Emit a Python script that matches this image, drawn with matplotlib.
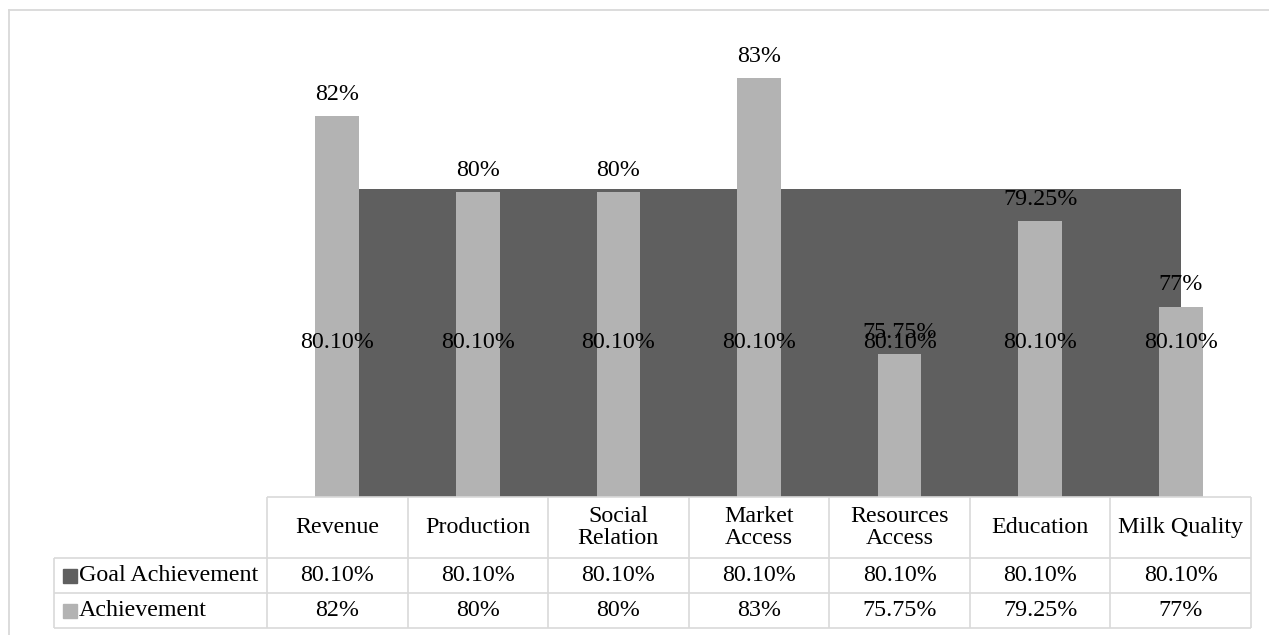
import matplotlib
matplotlib.use("Agg")
import matplotlib.pyplot as plt

plt.rcParams["font.family"] = ["Liberation Serif", "DejaVu Serif"]
plt.rcParams["font.size"] = 17.3

categories = ["Revenue", "Production", "Social\nRelation", "Market\nAccess",
              "Resources\nAccess", "Education", "Milk Quality"]
goal = [80.10, 80.10, 80.10, 80.10, 80.10, 80.10, 80.10]
achievement = [82, 80, 80, 83, 75.75, 79.25, 77]
series_names = ["Goal Achievement", "Achievement"]

DARK = "#5f5f5f"
LIGHT = "#b3b3b3"
GRID = "#d9d9d9"

W, H = 1269, 635
fig = plt.figure(figsize=(W / 100, H / 100), dpi=100)

# pixel layout of the plot area and the data table
plot_l, plot_r, plot_t, plot_b = 267, 1251, 40, 497
tab_l, tab_b = 54, 628
row_lines = [497, 558, 593, 628]

x = list(range(len(categories)))
col_w = (plot_r - plot_l) / len(categories)

ax = fig.add_axes([plot_l / W, (H - plot_b) / H,
                   (plot_r - plot_l) / W, (plot_b - plot_t) / H])
ax.set_xlim(-0.5, len(categories) - 0.5)
ax.set_ylim(72, 84)
ax.axis("off")
ymin = ax.get_ylim()[0]

ax.fill_between(x, goal, ymin, color=DARK, linewidth=0, zorder=1)
ax.bar(x, achievement, width=0.31, color=LIGHT, zorder=2)

for xi, g in zip(x, goal):
    ax.text(xi, (ymin + g) / 2, f"{g:.2f}%", ha="center", va="center", zorder=4)
for xi, a in zip(x, achievement):
    ax.annotate(f"{a:g}%", (xi, a), xytext=(0, 8), textcoords="offset points",
                ha="center", va="bottom", zorder=4)

# data table under the chart
tx = fig.add_axes([tab_l / W, (H - tab_b) / H,
                   (plot_r - tab_l) / W, (tab_b - row_lines[0]) / H])
x_left = -0.5 - (plot_l - tab_l) / col_w
tx.set_xlim(x_left, len(categories) - 0.5)
tx.set_ylim(tab_b, row_lines[0])
tx.axis("off")


def px(xp):
    return -0.5 - (plot_l - xp) / col_w


lk = dict(color=GRID, linewidth=1.2, clip_on=False, solid_capstyle="butt")
tx.plot([-0.5, len(categories) - 0.5], [row_lines[0]] * 2, **lk)
for yl in row_lines[1:]:
    tx.plot([x_left, len(categories) - 0.5], [yl, yl], **lk)
for k in range(len(categories) + 1):
    tx.plot([k - 0.5] * 2, [row_lines[0], row_lines[-1]], **lk)
tx.plot([x_left] * 2, [row_lines[1], row_lines[-1]], **lk)

head_y = (row_lines[0] + row_lines[1]) / 2
for xi, c in zip(x, categories):
    tx.text(xi, head_y, c, ha="center", va="center", linespacing=1.05)

rows = [[f"{g:.2f}%" for g in goal], [f"{a:g}%" for a in achievement]]
for r, (name, vals, col) in enumerate(zip(series_names, rows, [DARK, LIGHT])):
    yc = (row_lines[r + 1] + row_lines[r + 2]) / 2
    tx.plot(px(70), yc, marker="s", markersize=9.5, color=col,
            linestyle="none", clip_on=False)
    tx.text(px(79), yc, name, ha="left", va="center")
    for xi, v in zip(x, vals):
        tx.text(xi, yc, v, ha="center", va="center")

# chart border (clipped at the right and bottom edges)
fig.add_artist(plt.Line2D([8.5 / W, 1], [1 - 9.5 / H] * 2, color=GRID,
                          linewidth=1.3, transform=fig.transFigure))
fig.add_artist(plt.Line2D([8.5 / W] * 2, [0, 1 - 9.5 / H], color=GRID,
                          linewidth=1.3, transform=fig.transFigure))

fig.savefig("out.png", dpi=100, facecolor="white")
